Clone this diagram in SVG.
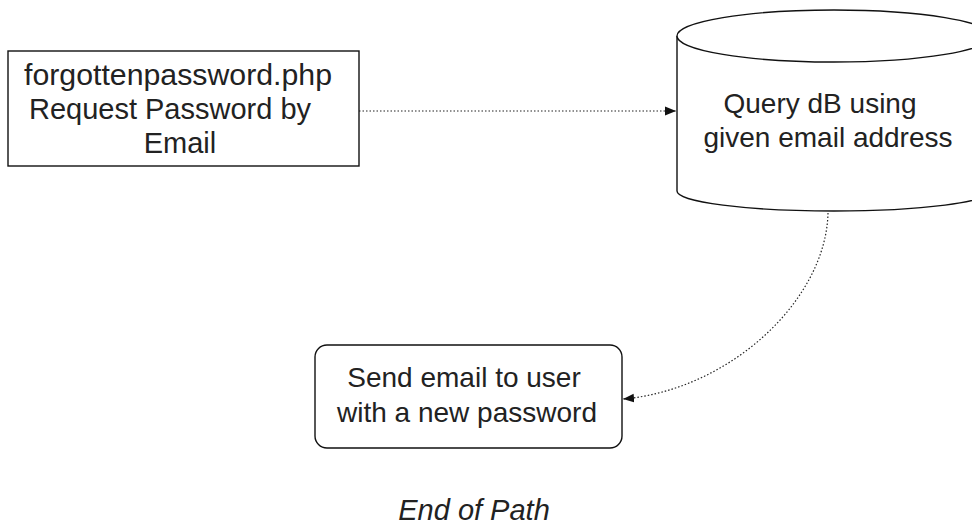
<svg xmlns="http://www.w3.org/2000/svg" width="972" height="529" viewBox="0 0 972 529">
<style>
.node{fill:#fff;stroke:#111;stroke-width:1.4}
.t{font-family:"Liberation Sans",Arial,sans-serif;font-size:29px;fill:#222;text-anchor:middle}
.s28{font-size:28px}
.conn{fill:none;stroke:#222;stroke-width:1.2;stroke-dasharray:1.5 2}
</style>
<defs>
<marker id="ah" viewBox="0 0 10 10" refX="10" refY="5" markerWidth="11" markerHeight="11" markerUnits="userSpaceOnUse" orient="auto">
<path d="M0,1 L10,5 L0,9 Z" fill="#111"/>
</marker>
</defs>
<rect width="972" height="529" fill="#fff"/>
<g id="connectors">
<path class="conn" d="M359,111 L676,111" marker-end="url(#ah)"/>
<path class="conn" d="M828,213 C826,300 730,390 623,399" marker-end="url(#ah)"/>
</g>
<g id="node-forgotten">
<rect class="node" x="8" y="51" width="351" height="115"/>
<text class="t" x="178" y="85" textLength="308" lengthAdjust="spacingAndGlyphs">forgottenpassword.php</text>
<text class="t" x="170" y="119">Request Password by</text>
<text class="t" x="180" y="153">Email</text>
</g>
<g id="node-query">
<path class="node" d="M677,36 L677,191 A157,20 0 0 0 991,191 L991,36"/>
<ellipse class="node" cx="834" cy="36" rx="157" ry="26"/>
<text class="t s28" x="820" y="113">Query dB using</text>
<text class="t s28" x="828" y="147">given email address</text>
</g>
<g id="node-send">
<rect class="node" x="315" y="345" width="307" height="103" rx="12" ry="12"/>
<text class="t s28" x="464" y="387">Send email to user</text>
<text class="t s28" x="467" y="422">with a new password</text>
</g>
<g id="end">
<text class="t" x="474" y="520" font-style="italic" font-size="24">End of Path</text>
</g>
</svg>
